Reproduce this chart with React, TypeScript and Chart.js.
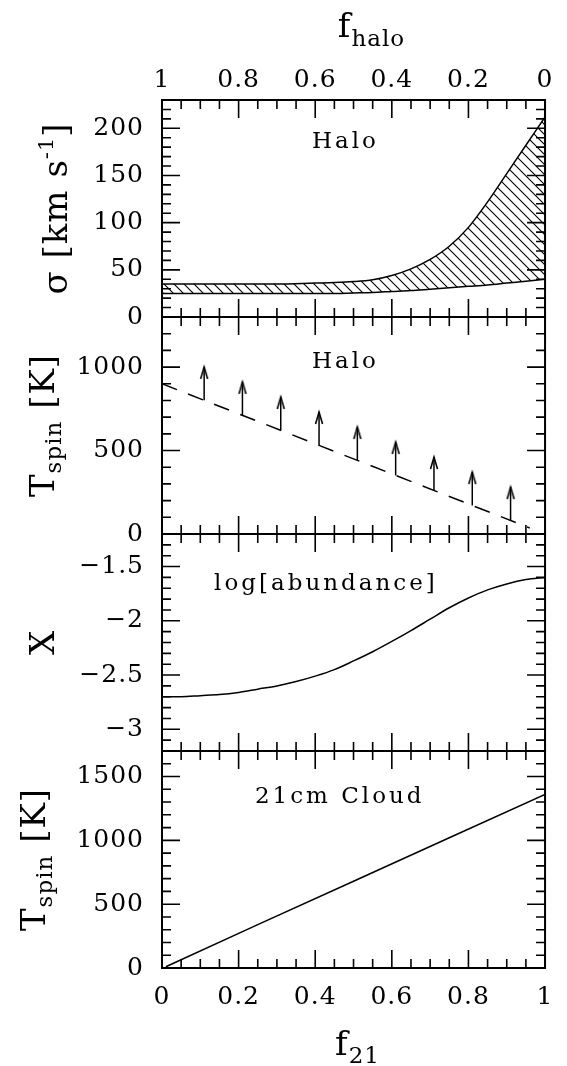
import React, { useEffect, useRef } from 'react';
import { Chart, registerables } from 'chart.js';

Chart.register(...registerables);

// ---------- data ----------
// Panel 1: velocity dispersion band (sigma, km/s) vs f21
const sigmaX = [0, 0.1, 0.2, 0.3, 0.4, 0.45, 0.5, 0.55, 0.6, 0.65, 0.7, 0.75, 0.8, 0.85, 0.9, 0.95, 1.0];
const sigmaUpper = [35, 35, 35, 35, 36, 36.5, 37.5, 39.5, 44, 51, 61, 75, 95, 122, 152, 182, 212];
const sigmaLower = [25, 25, 25, 25, 25, 25, 25.5, 26, 27, 28, 29.5, 31, 32.5, 34, 36, 38, 40];

// Panel 2: halo spin temperature lower limit (dashed) and arrows
const haloLineX = [0, 0.96];
const haloLineT = [900, 36];
const arrowX = [0.11, 0.21, 0.31, 0.41, 0.51, 0.61, 0.71, 0.81, 0.91];
const arrowBase = [801, 711, 621, 531, 441, 351, 261, 171, 81];
const arrowTip = [1001, 911, 821, 731, 641, 551, 461, 371, 281];

// Panel 3: log abundance
const abundX = [0, 0.05, 0.1, 0.15, 0.2, 0.25, 0.3, 0.35, 0.4, 0.45, 0.5, 0.55, 0.6, 0.65, 0.7, 0.75, 0.8, 0.85, 0.9, 0.95, 1.0];
const abundY = [-2.70, -2.70, -2.69, -2.68, -2.66, -2.63, -2.60, -2.56, -2.51, -2.45, -2.37, -2.285, -2.19, -2.09, -1.985, -1.88, -1.79, -1.715, -1.66, -1.62, -1.60];

// Panel 4: 21cm cloud spin temperature
const cloudX = [0.01, 0.25, 0.5, 0.75, 1.0];
const cloudT = [10, 340, 680, 1020, 1360];

// tick values and labels
const xTickValues = [0, 0.2, 0.4, 0.6, 0.8, 1];
const xTickLabels = ['0', '0.2', '0.4', '0.6', '0.8', '1'];
const y1TickValues = [0, 50, 100, 150, 200];
const y1TickLabels = ['0', '50', '100', '150', '200'];
const y2TickValues = [0, 500, 1000];
const y2TickLabels = ['0', '500', '1000'];
const y3TickValues = [-3, -2.5, -2, -1.5];
const y3TickLabels = ['−3', '−2.5', '−2', '−1.5'];
const y4TickValues = [0, 500, 1000, 1500];
const y4TickLabels = ['0', '500', '1000', '1500'];

const FONT = '"DejaVu Serif", serif';

type Seg = { t: string; size: number; dy: number };

function drawRich(ctx: CanvasRenderingContext2D, segs: Seg[], cx: number, cy: number, rotate: boolean, spacing: number) {
  ctx.save();
  ctx.translate(cx, cy);
  if (rotate) ctx.rotate(-Math.PI / 2);
  (ctx as any).letterSpacing = spacing + 'px';
  ctx.textBaseline = 'alphabetic';
  ctx.textAlign = 'left';
  let total = 0;
  const widths: number[] = [];
  segs.forEach((s) => {
    ctx.font = `${s.size}px ${FONT}`;
    const w = ctx.measureText(s.t).width;
    widths.push(w);
    total += w;
  });
  let x = -total / 2;
  segs.forEach((s, i) => {
    ctx.font = `${s.size}px ${FONT}`;
    ctx.fillText(s.t, x, s.dy);
    x += widths[i];
  });
  ctx.restore();
}

const panelDefs = [
  { id: 'y1', major: 50, minor: 10, min: 0, max: 230, titleX: 67, vals: y1TickValues, labels: y1TickLabels,
    title: [{ t: 'σ [km s', size: 34, dy: 0 }, { t: '-1', size: 21, dy: -14 }, { t: ']', size: 34, dy: 0 }],
    note: 'Halo', noteX: 0.479, noteY: 179 },
  { id: 'y2', major: 500, minor: 100, min: 0, max: 1300, titleX: 54, vals: y2TickValues, labels: y2TickLabels,
    title: [{ t: 'T', size: 34, dy: 0 }, { t: 'spin', size: 23, dy: 7 }, { t: ' [K]', size: 34, dy: 0 }],
    note: 'Halo', noteX: 0.479, noteY: 997 },
  { id: 'y3', major: 0.5, minor: 0.1, min: -3.2, max: -1.2, titleX: 54, vals: y3TickValues, labels: y3TickLabels,
    title: [{ t: 'X', size: 34, dy: 0 }],
    note: 'log[abundance]', noteX: 0.428, noteY: -1.714 },
  { id: 'y4', major: 500, minor: 100, min: 0, max: 1700, titleX: 45, vals: y4TickValues, labels: y4TickLabels,
    title: [{ t: 'T', size: 34, dy: 0 }, { t: 'spin', size: 23, dy: 7 }, { t: ' [K]', size: 34, dy: 0 }],
    note: '21cm Cloud', noteX: 0.464, noteY: 1289 },
];

const spacingPlugin = {
  id: 'spacingPlugin',
  beforeDraw(chart: any) {
    (chart.ctx as any).letterSpacing = '1px';
  },
};

const framePlugin = {
  id: 'framePlugin',
  afterDraw(chart: any) {
    const ctx: CanvasRenderingContext2D = chart.ctx;
    const { left, right } = chart.chartArea;
    const xs = chart.scales.x;
    ctx.save();
    ctx.strokeStyle = '#000';
    ctx.fillStyle = '#000';
    panelDefs.forEach((p) => {
      const ys = chart.scales[p.id];
      const top = ys.top;
      const bottom = ys.bottom;
      ctx.lineWidth = 1.6;
      ctx.beginPath();
      // x ticks
      for (let k = 0; k <= 20; k++) {
        const v = k * 0.05;
        const px = xs.getPixelForValue(v);
        const L = k % 4 === 0 ? 18 : 9;
        ctx.moveTo(px, top);
        ctx.lineTo(px, top + L);
        ctx.moveTo(px, bottom);
        ctx.lineTo(px, bottom - L);
      }
      // y ticks
      const n0 = Math.ceil(p.min / p.minor - 1e-6);
      const n1 = Math.floor(p.max / p.minor + 1e-6);
      const ratio = Math.round(p.major / p.minor);
      for (let k = n0; k <= n1; k++) {
        const v = k * p.minor;
        const py = ys.getPixelForValue(v);
        const L = ((k % ratio) + ratio) % ratio === 0 ? 18 : 9;
        ctx.moveTo(left, py);
        ctx.lineTo(left + L, py);
        ctx.moveTo(right, py);
        ctx.lineTo(right - L, py);
      }
      ctx.stroke();
      ctx.lineWidth = 2;
      ctx.strokeRect(left, top, right - left, bottom - top);

      // y title
      drawRich(ctx, p.title, p.titleX, (top + bottom) / 2, true, 1);

      // annotation
      ctx.save();
      ctx.font = `23px ${FONT}`;
      (ctx as any).letterSpacing = '3px';
      ctx.textAlign = 'center';
      ctx.textBaseline = 'alphabetic';
      ctx.fillText(p.note, xs.getPixelForValue(p.noteX), ys.getPixelForValue(p.noteY));
      ctx.restore();
    });
    // x titles
    const cx = (left + right) / 2;
    drawRich(ctx, [{ t: 'f', size: 34, dy: 0 }, { t: 'halo', size: 23, dy: 9 }], cx + 18, 37, false, 1);
    drawRich(ctx, [{ t: 'f', size: 34, dy: 0 }, { t: '21', size: 23, dy: 8 }], cx + 4, 1055, false, 1);
    ctx.restore();
  },
};

export default function App() {
  const ref = useRef<HTMLCanvasElement>(null);
  useEffect(() => {
    const canvas = ref.current!;
    const ctx = canvas.getContext('2d')!;

    // hatch pattern
    const pc = document.createElement('canvas');
    pc.width = 10;
    pc.height = 10;
    const pctx = pc.getContext('2d')!;
    pctx.strokeStyle = '#000';
    pctx.lineWidth = 1.1;
    pctx.beginPath();
    pctx.moveTo(-2, -2);
    pctx.lineTo(12, 12);
    pctx.moveTo(-2, 8);
    pctx.lineTo(2, 12);
    pctx.moveTo(8, -2);
    pctx.lineTo(12, 2);
    pctx.stroke();
    const pattern = ctx.createPattern(pc, 'repeat')!;

    // arrow head image (apex at center)
    const head = document.createElement('canvas');
    head.width = 12;
    head.height = 28;
    const hctx = head.getContext('2d')!;
    hctx.strokeStyle = '#000';
    hctx.lineWidth = 1.6;
    hctx.beginPath();
    hctx.moveTo(2.5, 26);
    hctx.lineTo(6, 14);
    hctx.lineTo(9.5, 26);
    hctx.stroke();

    const tickFont = { family: FONT, size: 25 };
    const baseLine = { borderColor: '#000', borderWidth: 1.5, pointRadius: 0, fill: false };

    const datasets: any[] = [
      {
        ...baseLine,
        label: 'sigma lower',
        data: sigmaX.map((x, i) => ({ x, y: sigmaLower[i] })),
        xAxisID: 'x', yAxisID: 'y1',
        cubicInterpolationMode: 'monotone',
      },
      {
        ...baseLine,
        label: 'sigma upper',
        data: sigmaX.map((x, i) => ({ x, y: sigmaUpper[i] })),
        xAxisID: 'x', yAxisID: 'y1',
        cubicInterpolationMode: 'monotone',
        fill: '-1',
        backgroundColor: pattern,
      },
      {
        ...baseLine,
        label: 'Tspin halo',
        data: haloLineX.map((x, i) => ({ x, y: haloLineT[i] })),
        xAxisID: 'x', yAxisID: 'y2',
        borderDash: [16, 12],
      },
      ...arrowX.map((x, i) => ({
        ...baseLine,
        label: 'arrow ' + i,
        data: [{ x, y: arrowBase[i] }, { x, y: arrowTip[i] }],
        xAxisID: 'x', yAxisID: 'y2',
        pointRadius: (c: any) => (c.dataIndex === 1 ? 4 : 0),
        pointStyle: (c: any) => (c.dataIndex === 1 ? head : 'circle'),
      })),
      {
        ...baseLine,
        label: 'log abundance',
        data: abundX.map((x, i) => ({ x, y: abundY[i] })),
        xAxisID: 'x', yAxisID: 'y3',
        cubicInterpolationMode: 'monotone',
      },
      {
        ...baseLine,
        label: 'Tspin cloud',
        data: cloudX.map((x, i) => ({ x, y: cloudT[i] })),
        xAxisID: 'x', yAxisID: 'y4',
      },
    ];

    const yScale = (p: any, weight: number) => ({
      type: 'linear',
      position: 'left',
      stack: 'panels',
      stackWeight: 1,
      weight,
      min: p.min,
      max: p.max,
      grid: { display: false, drawTicks: false },
      border: { display: false },
      afterFit: (s: any) => { s.width = 162; },
      afterBuildTicks: (s: any) => { s.ticks = p.vals.map((v: number) => ({ value: v })); },
      ticks: {
        autoSkip: false,
        padding: 18,
        color: '#000',
        font: tickFont,
        callback: (_v: any, i: number) => p.labels[i],
      },
    });

    const xScale = (pos: string, reverse: boolean, h: number, pad: number) => ({
      type: 'linear', position: pos, min: 0, max: 1, reverse,
      grid: { display: false, drawTicks: false }, border: { display: false },
      afterFit: (s: any) => { s.height = h; },
      afterBuildTicks: (s: any) => { s.ticks = xTickValues.map((v) => ({ value: v })); },
      ticks: { autoSkip: false, maxRotation: 0, padding: pad, color: '#000', font: tickFont,
        callback: (_v: any, i: number) => xTickLabels[i] },
    });

    const chart = new Chart(canvas, {
      type: 'line',
      data: { datasets },
      options: {
        responsive: false,
        animation: false,
        layout: { padding: { left: 0, right: 8, top: 0, bottom: 0 } },
        plugins: { legend: { display: false }, tooltip: { enabled: false } },
        scales: {
          x: xScale('bottom', false, 98, 14),
          x2: xScale('top', true, 100, 5),
          y1: yScale(panelDefs[0], 4),
          y2: yScale(panelDefs[1], 3),
          y3: yScale(panelDefs[2], 2),
          y4: yScale(panelDefs[3], 1),
        } as any,
      },
      plugins: [spacingPlugin, framePlugin],
    } as any);
    return () => chart.destroy();
  }, []);

  return (
    <div style={{ position: 'fixed', left: 0, top: 0, width: 567, height: 1066, background: '#fff' }}>
      <canvas ref={ref} width={567} height={1066} style={{ display: 'block', width: 567, height: 1066 }} />
    </div>
  );
}
